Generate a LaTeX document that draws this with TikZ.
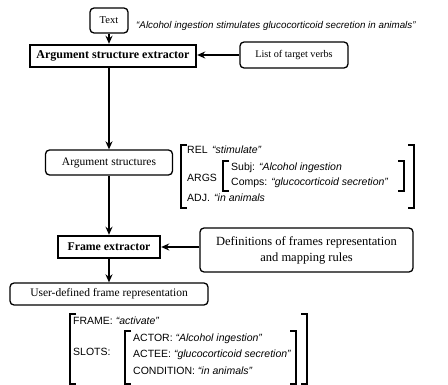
\documentclass[tikz,border=0pt]{standalone}
\usepackage{fontspec}
\setmainfont{Liberation Serif}
\setsansfont{Liberation Sans}
\usetikzlibrary{arrows.meta}
\begin{document}
\begin{tikzpicture}[x=1pt,y=-1pt,
  rbox/.style={draw, rounded corners=4pt, line width=1.3pt, inner sep=1pt, font=\fontsize{11.5}{13}\selectfont},
  tbox/.style={draw, line width=2.4pt, inner sep=1pt, font=\fontsize{12}{13}\selectfont\bfseries},
  arr/.style={line width=1.7pt, -{Stealth[length=8pt,width=7pt]}},
  brk/.style={line width=1.8pt},
  lbl/.style={font=\sffamily\fontsize{10.5}{12}\selectfont, inner sep=0pt, anchor=west},
  qt/.style={font=\sffamily\itshape\fontsize{10.5}{12}\selectfont, inner sep=0pt, anchor=west}]
\path[use as bounding box, fill=white] (0,0) rectangle (448,385);

% boxes
\node[rbox, minimum width=38pt, minimum height=25pt, font=\fontsize{10.5}{12}\selectfont] (txt) at (109,20.5) {Text};
\node[qt, font=\sffamily\itshape\fontsize{9.8}{12}\selectfont] (quote) at (136,26) {“Alcohol ingestion stimulates glucocorticoid secretion in animals”};
\node[tbox, minimum width=166pt, minimum height=22pt] (ase) at (113,56) {Argument structure extractor};
\node[rbox, minimum width=108pt, minimum height=26pt, font=\fontsize{10.2}{12}\selectfont] (ltv) at (294,55) {List of target verbs};
\node[rbox, minimum width=127pt, minimum height=25pt] (as) at (109,162.5) {Argument structures};
\node[tbox, minimum width=102pt, minimum height=22pt, font=\fontsize{11.8}{13}\selectfont\bfseries] (fe) at (109,247) {Frame extractor};
\node[rbox, minimum width=213pt, minimum height=44pt, align=center, font=\fontsize{12.5}{16}\selectfont] (def) at (306.5,250) {Definitions of frames representation\\and mapping rules};
\node[rbox, minimum width=198pt, minimum height=22pt] (udf) at (109,294) {User-defined frame representation};

% connectors
\draw[arr] (txt) -- (txt |- ase.north);
\draw[arr] (ltv.west) -- (ltv.west -| ase.east);
\draw[arr] (ase.south -| as) -- (as.north);
\draw[arr] (as.south -| fe) -- (fe.north);
\draw[arr] (def.west |- fe) -- (fe.east);
\draw[arr] (fe) -- (udf);

% upper feature structure
\draw[brk] (187,145) -- (181,145) -- (181,208) -- (187,208);
\draw[brk] (408,145) -- (414,145) -- (414,208) -- (408,208);
\draw[brk] (229,161) -- (223,161) -- (223,191) -- (229,191);
\draw[brk] (398,161) -- (404,161) -- (404,191) -- (398,191);
\node[lbl] (rel) at (187,150) {REL};
\node[qt] (relv) at (212,150) {“stimulate”};
\node[lbl] (args) at (187,178) {ARGS};
\node[lbl] (subj) at (231,168) {Subj: \textit{“Alcohol ingestion}};
\node[lbl] (comps) at (231,183) {Comps: \textit{“glucocorticoid secretion”}};
\node[lbl] (adj) at (187,198) {ADJ.};
\node[qt] (adjv) at (214,198) {“in animals};

% lower feature structure
\draw[brk] (76,314) -- (70,314) -- (70,384) -- (76,384);
\draw[brk] (301,314) -- (307,314) -- (307,384) -- (301,384);
\draw[brk] (131,331) -- (125,331) -- (125,384) -- (131,384);
\draw[brk] (290,331) -- (296,331) -- (296,384) -- (290,384);
\node[lbl] (frame) at (73,321) {FRAME: \textit{“activate”}};
\node[lbl] (slots) at (73,352) {SLOTS:};
\node[lbl] (actor) at (133,339) {ACTOR: \textit{“Alcohol ingestion”}};
\node[lbl] (actee) at (133,355) {ACTEE: \textit{“glucocorticoid secretion”}};
\node[lbl] (cond) at (133,371) {CONDITION: \textit{“in animals”}};
\end{tikzpicture}
\end{document}
